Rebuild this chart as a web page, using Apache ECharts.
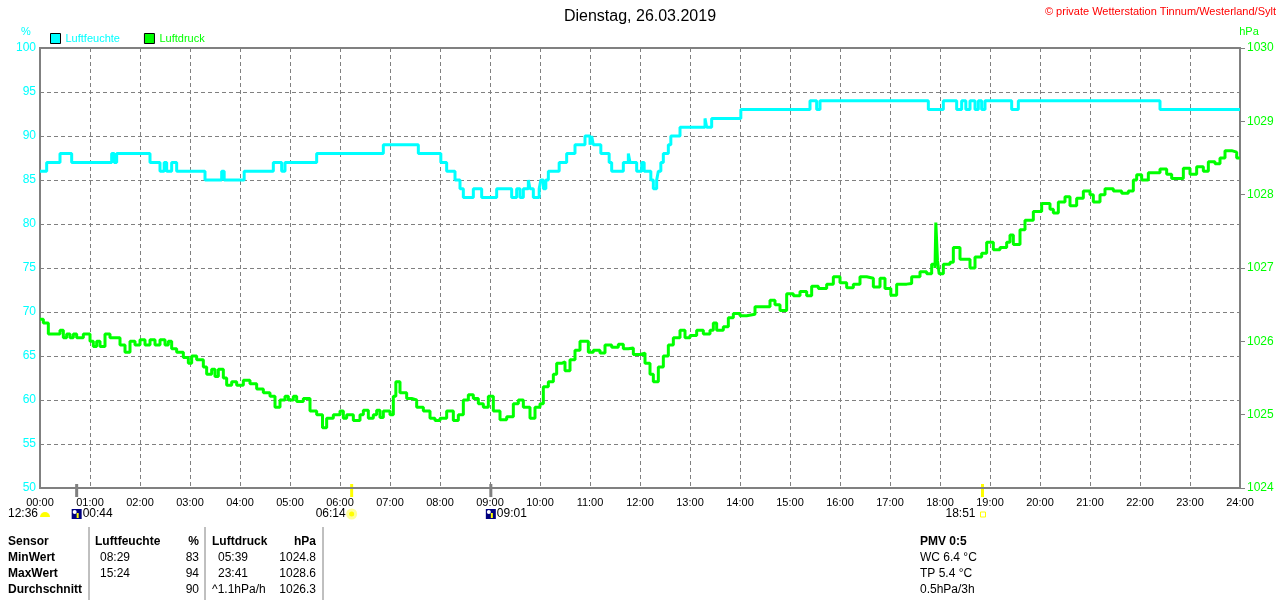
<!DOCTYPE html>
<html>
<head>
<meta charset="utf-8">
<script src="https://cdn.jsdelivr.net/npm/echarts@6.0.0/dist/echarts.min.js"></script>
<style>
  html, body { margin: 0; padding: 0; background: #fff; }
  #chart { width: 1280px; height: 600px; }
</style>
</head>
<body>
<div id="chart"></div>
<script>
var hourLabels = ['00:00','01:00','02:00','03:00','04:00','05:00','06:00','07:00','08:00','09:00','10:00','11:00',
  '12:00','13:00','14:00','15:00','16:00','17:00','18:00','19:00','20:00','21:00','22:00','23:00','24:00'];

// Luftfeuchte: value holds from each time until the next one
var humTimes = ['00:00','00:08','00:24','00:38','01:26','01:29','01:32','02:12','02:24','02:29','02:32','02:38','02:44',
  '03:18','03:38','03:41','04:05','04:40','04:50','04:54','05:32','06:52','07:34','08:01','08:08','08:18','08:24','08:28',
  '08:40','08:50','09:08','09:26','09:32','09:36','09:40','09:46','09:48','09:52','09:59','10:01','10:04','10:07','10:10',
  '10:23','10:32','10:42','10:54','11:00','11:02','11:04','11:13','11:23','11:26','11:40','11:46','11:48','11:56','12:02',
  '12:05','12:13','12:16','12:20','12:22','12:25','12:28','12:34','12:37','12:48','13:18','13:20','13:26','14:01','15:24',
  '15:32','15:36','17:46','18:04','18:20','18:26','18:31','18:36','18:42','18:46','18:50','18:54','19:00','19:26','19:34',
  '22:24','24:00'];
var humValues = [86,87,88,87,88,87,88,87,86,87,86,87,86,
  85,86,85,86,87,86,87,88,89,88,87,86,85,84,83,
  84,83,84,83,84,83,84,85,84,83,84,85,84,85,86,
  87,88,89,90,89,90,89,88,87,86,87,88,87,86,87,
  86,85,84,85,86,87,88,89,90,91,92,91,92,93,94,
  93,94,93,94,93,94,93,94,93,94,93,94,94,93,94,
  93,93];

// Luftdruck
var presTimes = ['00:00','00:04','00:10','00:16','00:24','00:28','00:32','00:36','00:40','00:44','00:52','01:00','01:04',
  '01:08','01:12','01:18','01:24','01:32','01:36','01:42','01:48','01:54','02:00','02:06','02:12','02:18','02:24','02:30',
  '02:34','02:38','02:44','02:52','02:58','03:02','03:08','03:16','03:20','03:26','03:30','03:34','03:40','03:44','03:50',
  '03:56','04:04','04:12','04:20','04:28','04:36','04:42','04:48','04:54','04:58','05:04','05:08','05:16','05:24','05:32',
  '05:39','05:44','05:52','06:00','06:04','06:08','06:16','06:24','06:28','06:34','06:40','06:44','06:48','06:52','07:00',
  '07:04','07:07','07:12','07:20','07:26','07:32','07:40','07:48','07:54','08:00','08:08','08:16','08:22','08:28','08:34',
  '08:40','08:46','08:52','08:58','09:04','09:12','09:20','09:28','09:34','09:40','09:48','09:54','10:00','10:04','10:10',
  '10:16','10:20','10:26','10:30','10:36','10:42','10:48','10:54','10:58','11:04','11:12','11:18','11:26','11:34','11:40',
  '11:46','11:52','12:00','12:06','12:12','12:16','12:22','12:28','12:34','12:40','12:48','12:54','13:00','13:08','13:16',
  '13:24','13:28','13:32','13:40','13:46','13:52','14:00','14:08','14:18','14:28','14:36','14:42','14:48','14:56','15:04',
  '15:12','15:20','15:26','15:34','15:44','15:52','16:00','16:08','16:16','16:24','16:32','16:40','16:48','16:54','17:01',
  '17:08','17:20','17:26','17:36','17:44','17:50','17:54','17:55','17:57','17:59','18:04','18:12','18:16','18:24','18:32',
  '18:36','18:42','18:50','18:56','19:04','19:12','19:20','19:24','19:28','19:36','19:42','19:52','20:02','20:12','20:16',
  '20:22','20:30','20:36','20:44','20:52','21:00','21:04','21:12','21:18','21:28','21:38','21:46','21:52','21:56','22:02',
  '22:10','22:20','22:24','22:32','22:38','22:46','22:52','23:00','23:08','23:16','23:22','23:30','23:36','23:42','23:50',
  '23:56','24:00'];
var presValues = [1026.30,1026.25,1026.10,1026.10,1026.15,1026.05,1026.10,1026.05,1026.10,1026.05,1026.10,1026.00,1025.93,
  1026.00,1025.93,1026.10,1026.05,1026.05,1025.95,1025.85,1026.00,1025.95,1026.02,1025.95,1026.02,1025.95,1026.02,1025.95,
  1026.00,1025.90,1025.85,1025.78,1025.70,1025.80,1025.75,1025.65,1025.55,1025.62,1025.52,1025.62,1025.50,1025.40,1025.45,
  1025.40,1025.47,1025.42,1025.35,1025.30,1025.25,1025.10,1025.20,1025.25,1025.20,1025.25,1025.18,1025.22,1025.05,1025.00,
  1024.82,1024.95,1025.00,1025.05,1024.95,1025.00,1024.92,1025.00,1025.06,1024.95,1025.00,1025.06,1024.96,1025.05,1025.00,
  1025.25,1025.45,1025.30,1025.22,1025.20,1025.10,1025.05,1024.95,1024.92,1024.95,1025.05,1024.92,1025.00,1025.20,1025.27,
  1025.22,1025.15,1025.10,1025.25,1025.05,1024.93,1024.97,1025.15,1025.20,1025.10,1024.95,1025.10,1025.15,1025.38,1025.45,
  1025.55,1025.70,1025.72,1025.60,1025.75,1025.88,1026.00,1026.00,1025.85,1025.88,1025.84,1025.95,1025.92,1025.96,1025.90,
  1025.91,1025.82,1025.84,1025.70,1025.55,1025.45,1025.65,1025.80,1025.95,1026.05,1026.15,1026.05,1026.08,1026.15,1026.10,
  1026.15,1026.25,1026.15,1026.20,1026.32,1026.38,1026.35,1026.37,1026.47,1026.47,1026.56,1026.50,1026.42,1026.65,1026.62,
  1026.68,1026.62,1026.75,1026.72,1026.78,1026.88,1026.80,1026.73,1026.78,1026.88,1026.86,1026.74,1026.86,1026.72,1026.63,
  1026.78,1026.79,1026.88,1026.95,1026.92,1027.05,1027.00,1027.62,1027.10,1026.92,1027.05,1027.08,1027.28,1027.12,1027.12,
  1027.00,1027.15,1027.20,1027.35,1027.25,1027.28,1027.35,1027.45,1027.32,1027.52,1027.65,1027.77,1027.88,1027.80,1027.75,
  1027.90,1027.97,1027.85,1027.95,1028.05,1028.00,1027.90,1028.00,1028.08,1028.05,1028.02,1028.05,1028.20,1028.27,1028.20,
  1028.30,1028.30,1028.35,1028.28,1028.22,1028.22,1028.36,1028.28,1028.38,1028.32,1028.45,1028.42,1028.50,1028.60,1028.58,
  1028.50,1028.50];

// sun / moon events under the time axis
var sunrise = '06:14', sunset = '18:51';
var moonrise = '00:44', moonset = '09:01';
var prevEvent = '12:36';

var statRows = ['Sensor', 'MinWert', 'MaxWert', 'Durchschnitt'];
var humStats = [['Luftfeuchte', '%'], ['08:29', '83'], ['15:24', '94'], ['', '90']];
var presStats = [['Luftdruck', 'hPa'], ['05:39', '1024.8'], ['23:41', '1028.6'], ['^1.1hPa/h', '1026.3']];
var pmvLines = ['PMV 0:5', 'WC 6.4 \u00b0C', 'TP 5.4 \u00b0C', '0.5hPa/3h'];

var FONT = '"Liberation Sans", Arial, sans-serif';
var grey = '#808080';
var cyan = '#00ffff';
var green = '#00ff00';

function toHours(s) {
  var p = s.split(':');
  return +p[0] + (+p[1]) / 60;
}
function pairs(times, values) {
  return times.map(function(t, i) { return [toHours(t), values[i]]; });
}

var chart = echarts.init(document.getElementById('chart'), null, { renderer: 'canvas' });

chart.setOption({
  animation: false,
  backgroundColor: '#fff',
  textStyle: { fontFamily: FONT },
  title: {
    text: 'Dienstag, 26.03.2019',
    left: 'center',
    top: 4,
    textStyle: { fontSize: 16, fontWeight: 'normal', color: '#000', fontFamily: FONT }
  },
  legend: {
    left: 50,
    top: 33,
    padding: 0,
    itemWidth: 10,
    itemHeight: 10,
    itemGap: 24,
    icon: 'rect',
    itemStyle: { borderColor: '#000', borderWidth: 1 },
    data: [
      { name: 'Luftfeuchte', textStyle: { color: cyan } },
      { name: 'Luftdruck', textStyle: { color: green } }
    ],
    textStyle: { fontSize: 11, fontFamily: FONT }
  },
  grid: {
    left: 40, right: 40, top: 48, bottom: 112,
    show: true, borderColor: grey, borderWidth: 2
  },
  xAxis: {
    type: 'value',
    min: 0, max: 24, interval: 1,
    axisLine: { lineStyle: { color: grey, width: 2 } },
    axisTick: { show: false },
    axisLabel: {
      color: '#000', fontSize: 11, margin: 9,
      formatter: function(v) { return hourLabels[v]; }
    },
    splitLine: { show: true, lineStyle: { color: grey, type: [4, 3], width: 1 } }
  },
  yAxis: [
    {
      type: 'value',
      min: 50, max: 100, interval: 5,
      axisLine: { show: true, lineStyle: { color: grey, width: 2 } },
      axisTick: { show: false },
      axisLabel: { color: cyan, fontSize: 12, margin: 4 },
      splitLine: { show: true, lineStyle: { color: grey, type: [4, 3], width: 1 } }
    },
    {
      type: 'value',
      min: 1024, max: 1030, interval: 1,
      position: 'right',
      axisLine: { show: true, lineStyle: { color: grey, width: 2 } },
      axisTick: { show: true, length: 5, lineStyle: { color: grey } },
      axisLabel: {
        color: green, fontSize: 12, margin: 7,
        formatter: function(v) { return String(v); }
      },
      splitLine: { show: false }
    }
  ],
  series: [
    {
      name: 'Luftfeuchte',
      type: 'line',
      step: 'end',
      data: pairs(humTimes, humValues),
      showSymbol: false,
      lineStyle: { color: cyan, width: 3 },
      itemStyle: { color: cyan },
      z: 3
    },
    {
      name: 'Luftdruck',
      type: 'line',
      step: 'end',
      yAxisIndex: 1,
      data: pairs(presTimes, presValues),
      showSymbol: false,
      lineStyle: { color: green, width: 3 },
      itemStyle: { color: green },
      z: 4
    }
  ]
});

// annotations placed through the chart's own x scale
function px(t) { return chart.convertToPixel({ xAxisIndex: 0 }, toHours(t)); }
var axisY = chart.convertToPixel({ yAxisIndex: 0 }, 50);
var rowY = axisY + 26;
var g = [];

function txt(x, y, s, opt) {
  opt = opt || {};
  g.push({
    type: 'text', x: x, y: y, silent: true,
    style: {
      text: s, fill: opt.fill || '#000', font: (opt.bold ? 'bold ' : '') + (opt.size || 12) + 'px ' + FONT,
      align: opt.align || 'left', verticalAlign: 'middle'
    }
  });
}
function vline(x, y1, y2, color, w) {
  g.push({ type: 'line', silent: true, shape: { x1: x, y1: y1, x2: x, y2: y2 }, style: { stroke: color, lineWidth: w } });
}
function moonIcon(x, y) {
  g.push({ type: 'rect', silent: true, shape: { x: x, y: y - 5, width: 10, height: 10 }, style: { fill: '#00007f' } });
  g.push({ type: 'circle', silent: true, shape: { cx: x + 3, cy: y - 2, r: 2 }, style: { fill: '#fff' } });
  g.push({ type: 'rect', silent: true, shape: { x: x + 5, y: y - 1, width: 2, height: 5 }, style: { fill: '#ffff00' } });
}

// 12:36 marker at the start of the axis
var x0 = px('00:00');
txt(x0 - 2, rowY, prevEvent, { align: 'right' });
g.push({ type: 'sector', silent: true, shape: { cx: x0 + 5, cy: rowY + 3, r0: 0, r: 5, startAngle: Math.PI, endAngle: Math.PI * 2 }, style: { fill: '#ffff00' } });

// moon rise
var xm = px(moonrise);
vline(xm, axisY - 4, axisY + 9, grey, 3);
moonIcon(xm - 5, rowY);
txt(xm + 6, rowY, moonrise);

// sunrise
var xs = px(sunrise);
vline(xs, axisY - 4, axisY + 9, '#ffff00', 3);
txt(xs - 6, rowY, sunrise, { align: 'right' });
g.push({ type: 'circle', silent: true, shape: { cx: xs, cy: rowY, r: 4 }, style: { fill: '#ffff00', stroke: '#ffff99', lineWidth: 3 } });

// moon set
var xn = px(moonset);
vline(xn, axisY - 4, axisY + 9, grey, 3);
moonIcon(xn - 5, rowY);
txt(xn + 6, rowY, moonset);

// sunset
var xe = px(sunset);
vline(xe, axisY - 4, axisY + 9, '#ffff00', 3);
txt(xe - 7, rowY, sunset, { align: 'right' });
g.push({ type: 'rect', silent: true, shape: { x: xe - 2, y: rowY - 2, width: 5, height: 5 }, style: { fill: '#fff', stroke: '#ffff00', lineWidth: 1 } });

// axis units and station text
txt(26, 32, '%', { fill: cyan, size: 11, align: 'center' });
txt(1249, 32, 'hPa', { fill: green, size: 11, align: 'center' });
txt(1276, 12, '\u00a9 private Wetterstation Tinnum/Westerland/Sylt', { fill: '#ff0000', size: 11, align: 'right' });

// statistics table
var rowYs = [542, 558, 574, 590];
vline(89, 527, 600, grey, 1);
vline(205, 527, 600, grey, 1);
vline(323, 527, 600, grey, 1);
statRows.forEach(function(r, i) {
  var head = i === 0;
  txt(8, rowYs[i], r, { bold: true });
  txt(head ? 95 : 100, rowYs[i], humStats[i][0], { bold: head });
  txt(199, rowYs[i], humStats[i][1], { bold: head, align: 'right' });
  txt(head ? 212 : (i === 3 ? 212 : 218), rowYs[i], presStats[i][0], { bold: head });
  txt(316, rowYs[i], presStats[i][1], { bold: head, align: 'right' });
});
pmvLines.forEach(function(s, i) {
  txt(920, rowYs[i], s, { bold: i === 0 });
});

chart.setOption({ graphic: g });
</script>
</body>
</html>
